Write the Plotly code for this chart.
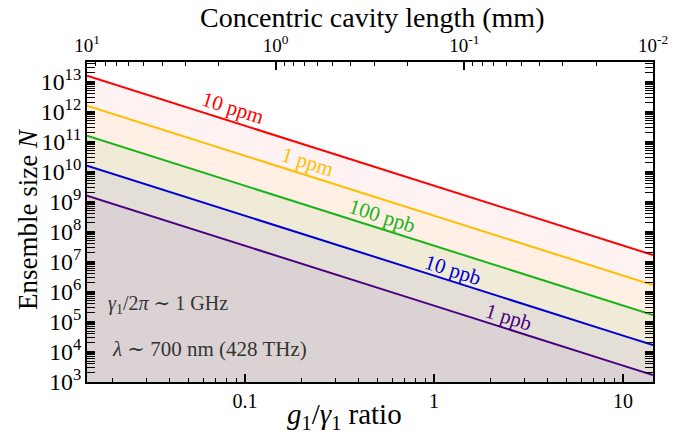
import math
import plotly.graph_objects as go

# ---- data ----
ratio_x = [0.0146, 0.1, 1, 10, 14.4]          # g1/gamma1 ratio
series_names = ["10 ppm", "1 ppm", "100 ppb", "10 ppb", "1 ppb"]
N_10ppm = [1.6e13, 3.5e11, 3.5e9, 3.5e7, 1.7e7]
N_1ppm = [1.6e12, 3.5e10, 3.5e8, 3.5e6, 1.7e6]
N_100ppb = [1.6e11, 3.5e9, 3.5e7, 3.5e5, 1.7e5]
N_10ppb = [1.6e10, 3.5e8, 3.5e6, 3.5e4, 1.7e4]
N_1ppb = [1.6e9, 3.5e7, 3.5e5, 3.5e3, 1.7e3]
series_values = [N_10ppm, N_1ppm, N_100ppb, N_10ppb, N_1ppb]
line_colors = ["#ff0000", "#ffbf00", "#19b419", "#0000d2", "#4b0082"]
fill_colors = ["rgba(255,0,0,0.05)", "rgba(255,191,0,0.05)", "rgba(0,180,0,0.06)",
               "rgba(0,0,220,0.05)", "rgba(75,0,130,0.05)"]
# label positions (x ratio, N)
label_x = [0.0865, 0.215, 0.531, 1.26, 2.47]
label_N = [1.3e12, 2.1e10, 3.4e8, 5.4e6, 1.45e5]

bottom_ticks = [0.1, 1, 10]
bottom_labels = ["0.1", "1", "10"]
top_ticks = [10, 1, 0.1, 0.01]
top_labels = ["10<sup>1</sup>", "10<sup>0</sup>", "10<sup>-1</sup>", "10<sup>-2</sup>"]

FONT = "Liberation Serif, DejaVu Serif, serif"
fig = go.Figure()

# fills (cumulative translucent)
for vals, fc in zip(series_values, fill_colors):
    fig.add_trace(go.Scatter(
        x=ratio_x + ratio_x[::-1],
        y=vals + [1e2] * len(ratio_x),
        fill="toself", fillcolor=fc, mode="none",
        hoverinfo="skip", showlegend=False))

# lines
for name, vals, lc in zip(series_names, series_values, line_colors):
    fig.add_trace(go.Scatter(x=ratio_x, y=vals, mode="lines", name=name,
                             line=dict(color=lc, width=2), showlegend=False))

# dummy trace for top axis
fig.add_trace(go.Scatter(x=top_ticks, y=[1e5] * 4, xaxis="x2", mode="markers",
                         marker=dict(opacity=0), hoverinfo="skip", showlegend=False))

# rotated line labels
for name, lx, ly, lc in zip(series_names, label_x, label_N, line_colors):
    fig.add_annotation(x=math.log10(lx), y=math.log10(ly), text=name, showarrow=False,
                       textangle=17.6, font=dict(family=FONT, size=21, color=lc))

fig.add_annotation(xref="paper", yref="paper", x=(106 - 87) / 566, y=(382 - 304) / 320,
                   xanchor="left", yanchor="middle", showarrow=False,
                   text="<i>γ</i><sub>1</sub>/2<i>π</i> ∼ 1 GHz",
                   font=dict(family=FONT, size=20, color="#333333"))
fig.add_annotation(xref="paper", yref="paper", x=(110 - 87) / 566, y=(382 - 349) / 320,
                   xanchor="left", yanchor="middle", showarrow=False,
                   text="<i>λ</i> ∼ 700 nm (428 THz)",
                   font=dict(family=FONT, size=21, color="#333333"))

# axis titles
fig.add_annotation(xref="paper", yref="paper", x=(372 - 87) / 566, y=(382 - 17) / 320,
                   showarrow=False, text="Concentric cavity length (mm)", yanchor="middle",
                   font=dict(family=FONT, size=28, color="black"))
fig.add_annotation(xref="paper", yref="paper", x=(344 - 87) / 566, y=(382 - 416) / 320,
                   showarrow=False,
                   text="<i>g</i><sub>1</sub>/<i>γ</i><sub>1</sub> ratio", yanchor="middle",
                   font=dict(family=FONT, size=29, color="black"))
fig.add_annotation(xref="paper", yref="paper", x=(28 - 87) / 566, y=(382 - 219) / 320,
                   showarrow=False, textangle=-90, xanchor="center", yanchor="middle",
                   text="Ensemble size <i>N</i>",
                   font=dict(family=FONT, size=27, color="black"))

axis_common = dict(showline=True, linecolor="black", linewidth=2, ticks="inside",
                   tickcolor="black", ticklen=8, tickwidth=1.5, showgrid=False,
                   zeroline=False, automargin=False,
                   minor=dict(ticks="inside", ticklen=4, tickcolor="black", tickwidth=1,
                              dtick="D1", showgrid=False))

fig.update_layout(
    width=690, height=440,
    margin=dict(l=87, r=37, t=62, b=58, autoexpand=False),
    font=dict(family=FONT, color="black"),
    plot_bgcolor="white", paper_bgcolor="white",
    xaxis=dict(type="log", range=[math.log10(0.0146), math.log10(14.4)],
               tickvals=bottom_ticks, ticktext=bottom_labels,
               tickfont=dict(family=FONT, size=20, color="black"), **axis_common),
    xaxis2=dict(type="log", range=[1, -2], overlaying="x", side="top", anchor="y",
                tickvals=top_ticks, ticktext=top_labels,
                tickfont=dict(family=FONT, size=19, color="black"), **axis_common),
    yaxis=dict(type="log", range=[3, 13.66], dtick=1, exponentformat="power",
               mirror="allticks",
               tickfont=dict(family=FONT, size=19, color="black"), **axis_common),
)

fig.write_html("out.html", config={"displayModeBar": False},
               post_script="document.body.style.margin='0';document.body.style.padding='0';")
